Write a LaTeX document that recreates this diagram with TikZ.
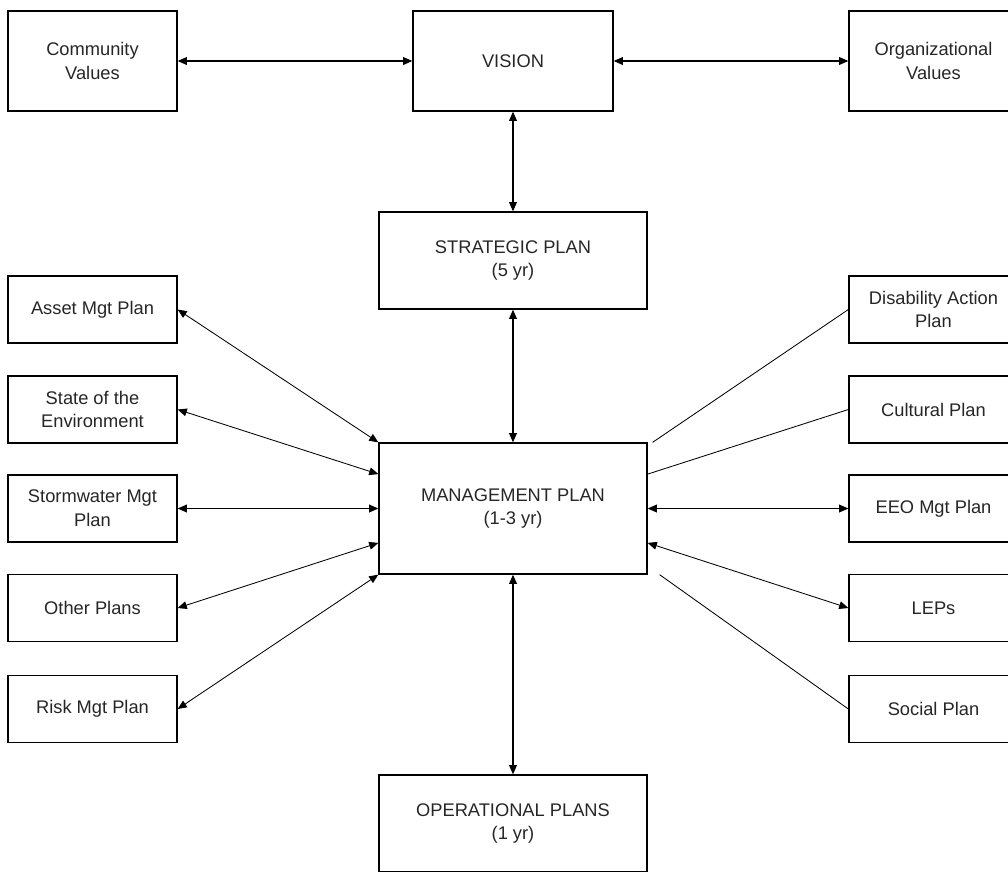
\documentclass[tikz,border=0pt]{standalone}
\usepackage{fontspec}
\setmainfont{Liberation Sans}
\usetikzlibrary{arrows.meta, calc}
\tikzset{%
>={Triangle[width=5.5pt,length=6.5pt]},
% Specifications for style of nodes:
base/.style = {draw, line width=0.9pt, inner sep=0pt, align=center, text=black!85,
  font=\fontsize{13}{17}\selectfont},
value/.style = {base, minimum width=4.225cm, minimum height=2.5cm},
vision/.style = {base, minimum width=5cm, minimum height=2.5cm},
plan/.style = {base, minimum width=6.7cm, minimum height=2.425cm},
mainplan/.style = {base, minimum width=6.7cm, minimum height=3.275cm},
side/.style = {base, minimum width=4.225cm, minimum height=1.675cm},
link/.style = {line width=0.6pt},
}

\begin{document}
\begin{tikzpicture}[x=0.025cm, y=-0.025cm, line width=0.8pt]
    \useasboundingbox (0,0) rectangle (1008,871);
    % Specification of nodes (position, etc.)
    \node (vision) [vision] at (513,61) {VISION};
    \node (community) [value] at (92.5,61) {Community\\Values};
    \node (organizational) [value] at (933.5,61) {Organizational\\Values};
    \node (strategic) [plan] at (513,260.5) {STRATEGIC PLAN\\(5 yr)};
    \node (management) [mainplan] at (513,508.5) {MANAGEMENT PLAN\\(1-3 yr)};
    \node (operational) [plan] at (513,823.5) {OPERATIONAL PLANS\\(1 yr)};

    \node (asset) [side] at (92.5,309.5) {Asset Mgt Plan};
    \node (environment) [side] at (92.5,409.5) {State of the\\Environment};
    \node (stormwater) [side] at (92.5,508.5) {Stormwater Mgt\\Plan};
    \node (other) [side] at (92.5,608) {Other Plans};
    \node (risk) [side] at (92.5,709) {Risk Mgt Plan};

    \node (disability) [side] at (933.5,309.5) {Disability Action\\Plan};
    \node (cultural) [side] at (933.5,409.5) {Cultural Plan};
    \node (eeo) [side] at (933.5,508.5) {EEO Mgt Plan};
    \node (leps) [side] at (933.5,608) {LEPs};
    \node (social) [side] at (933.5,709) {Social Plan};

    \draw [<->] (community) -- (vision);
    \draw [<->] (vision) -- (organizational);
    \draw [<->] (vision) -- (strategic);
    \draw [<->] (strategic) -- (management);
    \draw [<->] (management) -- (operational);

    \draw [link, <->] (asset.east) -- (management.north west);
    \draw [link, <->] (environment.east) -- ($(management.north west)!0.24!(management.south west)$);
    \draw [<->] (stormwater.east) -- (management.west);
    \draw [link, <->] (other.east) -- ($(management.north west)!0.76!(management.south west)$);
    \draw [link, <->] (risk.east) -- (management.south west);

    \draw [link] (disability.west) -- ([xshift=3.5pt]management.north east);
    \draw [link] (cultural.west) -- ($(management.north east)!0.24!(management.south east)$);
    \draw [<->] (management.east) -- (eeo.west);
    \draw [link, <->] ($(management.north east)!0.76!(management.south east)$) -- (leps.west);
    \draw [link] ([xshift=8.5pt]management.south east) -- (social.west);
\end{tikzpicture}
\end{document}
